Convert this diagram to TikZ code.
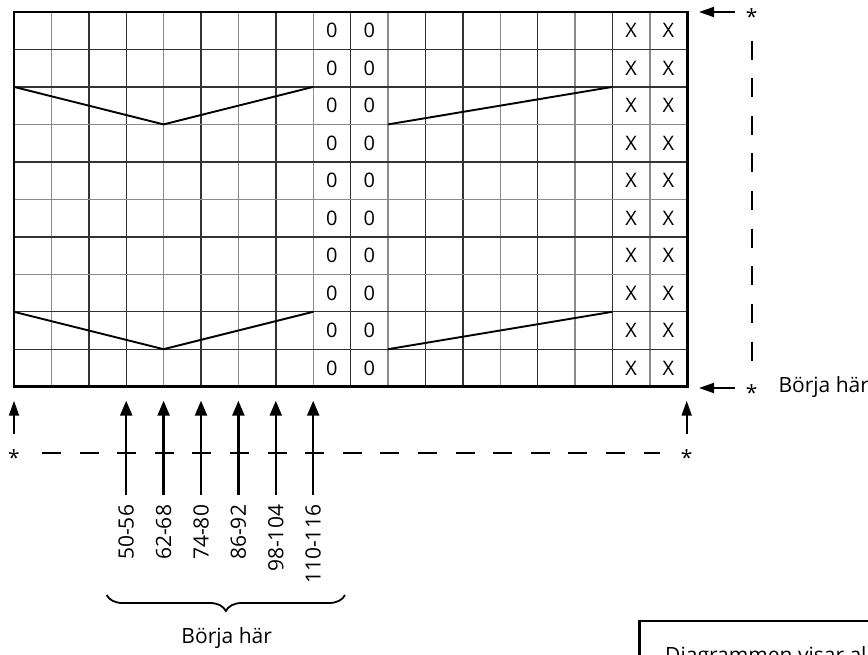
\documentclass[tikz,border=0pt]{standalone}
\usepackage{fontspec}
\setmainfont{Open Sans}
\usepackage{tikz}
\usetikzlibrary{arrows.meta}
\usetikzlibrary{decorations.pathreplacing}

\newcommand{\starmark}{\smash{\raisebox{-0.6em}{*}}}

\begin{document}
\begin{tikzpicture}[x=1pt, y=-1pt,
        gridline/.style={line width=1.4pt, black!80},
        greyline/.style={line width=1.4pt, black!45},
        frame/.style={line width=2.6pt},
        vline/.style={line width=1.9pt},
        colarrow/.style={line width=2.4pt, -{Triangle[length=15pt, width=12pt]}},
        sidearrow/.style={line width=1.8pt, -{Triangle[length=15pt, width=10pt]}},
        dashline/.style={line width=1.8pt, dash pattern=on 19pt off 18.6pt},
        cell/.style={inner sep=0pt, font=\fontsize{20}{24}\selectfont},
        sizetext/.style={rotate=90, anchor=east, inner sep=0pt, outer xsep=10pt, font=\fontsize{21}{25}\selectfont},
        starnode/.style={inner sep=0pt, font=\fontsize{21}{25}\selectfont},
        note/.style={font=\fontsize{21}{25}\selectfont}]
        \useasboundingbox (0,0) rectangle (868,655);
        \clip (0,0) rectangle (868,655);

        \foreach \i in {2,3,5,7,9,11,12,14,16}
            \draw[gridline] ({14+37.4*\i},12) -- ({14+37.4*\i},386.7);
        \foreach \i in {1,4,6,8,10,13,15,17}
            \draw[greyline] ({14+37.4*\i},12) -- ({14+37.4*\i},386.7);
        \foreach \j in {1,2,4,6,8,9}
            \draw[gridline] (14,{12+37.47*\j}) -- (687.2,{12+37.47*\j});
        \foreach \j in {3,5,7}
            \draw[greyline] (14,{12+37.47*\j}) -- (687.2,{12+37.47*\j});
        \draw[frame] (14,12) rectangle (687.2,386.7);

        \foreach \r in {0,...,9} {
            \node[cell] (zeroa\r) at (331.9,{30.7+37.47*\r}) {0};
            \node[cell] (zerob\r) at (369.3,{30.7+37.47*\r}) {0};
            \node[cell] (crossa\r) at (631.1,{30.7+37.47*\r}) {X};
            \node[cell] (crossb\r) at (668.5,{30.7+37.47*\r}) {X};
        }

        \draw[vline] (14,86.9) -- (163.6,124.4) -- (313.2,86.9);
        \draw[vline] (388,124.4) -- (612.4,86.9);
        \draw[vline] (14,311.8) -- (163.6,349.2) -- (313.2,311.8);
        \draw[vline] (388,349.2) -- (612.4,311.8);

        \node[starnode] (star1) at (751.7,12) {\starmark};
        \node[starnode] (star2) at (751.7,388) {\starmark};
        \node[starnode] (star3) at (14,453) {\starmark};
        \node[starnode] (star4) at (686.7,453) {\starmark};
        \node[note, anchor=west] (start1) at (775,387) {Börja här};
        \coordinate (tip1) at (699,12);
        \coordinate (tip2) at (699,388);
        \coordinate (tip3) at (14,400.7);
        \coordinate (tip4) at (686.7,400.7);
        \draw[sidearrow, shorten <=11pt] (star1) -- (tip1);
        \draw[sidearrow, shorten <=11pt] (star2) -- (tip2);
        \draw[sidearrow, shorten <=18pt] (star3) -- (tip3);
        \draw[sidearrow, shorten <=18pt] (star4) -- (tip4);
        \draw[dashline, shorten <=28pt, shorten >=26pt] (star1) -- (star2);
        \draw[dashline, shorten <=22pt, shorten >=21pt] (star3) -- (star4);

        \node[sizetext] (size1) at (126.2,495) {50-56};
        \node[sizetext] (size2) at (163.6,495) {62-68};
        \node[sizetext] (size3) at (201,495) {74-80};
        \node[sizetext] (size4) at (238.4,495) {86-92};
        \node[sizetext] (size5) at (275.8,495) {98-104};
        \node[sizetext] (size6) at (313.2,495) {110-116};
        \coordinate (col1) at (126.2,400.7);
        \coordinate (col2) at (163.6,400.7);
        \coordinate (col3) at (201,400.7);
        \coordinate (col4) at (238.4,400.7);
        \coordinate (col5) at (275.8,400.7);
        \coordinate (col6) at (313.2,400.7);
        \draw[colarrow] (size1) -- (col1);
        \draw[colarrow] (size2) -- (col2);
        \draw[colarrow] (size3) -- (col3);
        \draw[colarrow] (size4) -- (col4);
        \draw[colarrow] (size5) -- (col5);
        \draw[colarrow] (size6) -- (col6);

        \coordinate (brace1) at (345,595);
        \coordinate (brace2) at (106.7,595);
        \draw[line width=1.8pt, decorate, decoration={brace, amplitude=16pt}] (brace1) -- (brace2);
        \node[note] (start2) at (226.7,638) {Börja här};

        \draw[frame] (639.3,621) rectangle (900,700);
        \node[note, anchor=north west, inner sep=0pt] (note1) at (665,646) {Diagrammen visar all};
\end{tikzpicture}
\end{document}
